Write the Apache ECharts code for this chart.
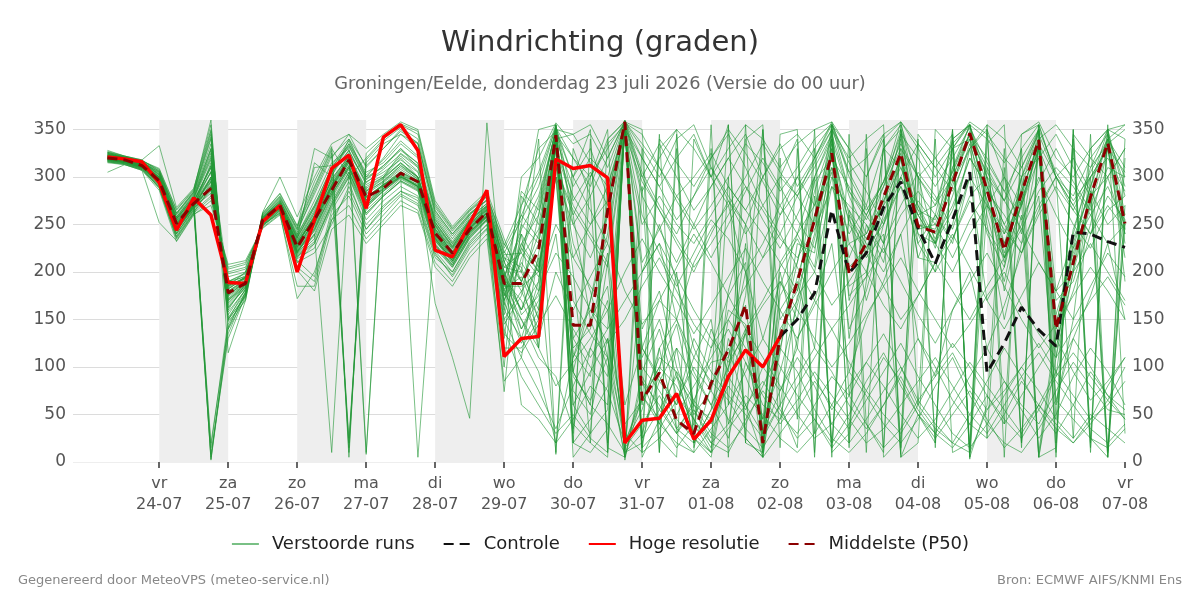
<!DOCTYPE html>
<html>
<head>
<meta charset="utf-8">
<script src="https://cdn.jsdelivr.net/npm/echarts@6/dist/echarts.min.js"></script>
<style>
html, body { margin: 0; padding: 0; background: #fff; }
#main { width: 1200px; height: 600px; }
</style>
</head>
<body>
<div id="main"></div>
<script>
var myChart = echarts.init(document.getElementById('main'));

// tijdstappen: uren na 23-07 00:00, elke 6 uur vanaf 23-07 06:00
var firstHour = 6, stepHours = 6, nSteps = 60;
var hours = [];
for (var i = 0; i < nSteps; i++) hours.push(firstHour + stepHours * i);

// dagticks (uren na 23-07 00:00) en hun labels
var tickHours = [24, 48, 72, 96, 120, 144, 168, 192, 216, 240, 264, 288, 312, 336, 360];
var tickDays = ['vr', 'za', 'zo', 'ma', 'di', 'wo', 'do', 'vr', 'za', 'zo', 'ma', 'di', 'wo', 'do', 'vr'];
var tickDates = ['24-07', '25-07', '26-07', '27-07', '28-07', '29-07', '30-07', '31-07',
                 '01-08', '02-08', '03-08', '04-08', '05-08', '06-08', '07-08'];

// grijze dagbanden (van, tot) in uren
var bandStart = [24, 72, 120, 168, 216, 264, 312];
var bandEnd = [48, 96, 144, 192, 240, 288, 336];

// hoge resolutie (loopt tot 02-08 00:00)
var hres = [321,319,316,294,244,278,260,189,188,253,270,200,
            255,309,323,267,342,355,328,223,216,251,286,111,
            130,132,319,309,312,299,20,44,46,72,24,44,
            90,118,100,132];

// controle (alleen zichtbaar na het einde van de hoge resolutie)
var controle = [null,null,null,null,null,null,null,null,null,null,null,null,
                null,null,null,null,null,null,null,null,null,null,null,null,
                null,null,null,null,null,null,null,null,null,null,null,null,
                null,null,null,132,150,178,265,199,220,268,295,246,
                209,255,305,94,125,163,139,122,242,240,232,226];

// middelste (P50)
var p50 = [320,318,312,296,251,272,288,178,188,255,270,226,
           255,286,318,279,288,304,295,241,220,245,263,188,
           188,223,344,144,144,265,358,65,94,44,30,83,
           118,165,20,132,190,255,325,199,230,279,325,248,
           242,293,346,286,223,283,339,140,210,279,336,251];

// verstoorde runs (50 leden)
var runs = [
[321,318,312,298,250,272,300,178,190,255,270,228,258,292,318,280,290,305,296,240,220,248,262,190,
 150,120,345,60,95,130,15,40,70,35,20,55,90,60,30,75,110,80,40,20,45,75,100,60,35,20,50,85,120,90,55,30,60,95,70,45],
[318,316,310,292,245,268,315,170,185,252,268,215,240,280,310,270,285,300,290,232,215,240,258,160,
 130,95,20,45,80,60,358,25,55,90,60,30,15,40,80,120,95,55,25,10,30,60,95,130,100,65,40,25,50,85,60,35,20,45,80,110],
[325,320,315,305,258,280,330,150,175,258,275,240,270,310,335,300,310,330,310,255,230,255,270,210,
 180,140,350,110,150,100,5,70,40,20,10,35,60,95,130,100,70,45,15,40,75,110,85,50,30,60,90,120,85,55,25,50,90,120,95,60],
[320,317,313,296,240,265,5,140,180,250,262,210,230,270,300,260,280,295,285,225,205,235,255,150,
 110,75,35,80,120,90,358,15,35,65,100,75,45,25,5,30,55,85,60,35,65,95,125,90,60,30,15,40,70,100,75,45,25,50,35,20],
[323,319,316,302,255,278,320,190,195,256,272,235,315,300,340,300,320,345,330,260,235,260,280,230,
 200,160,355,95,60,40,10,30,85,120,90,60,100,140,110,80,50,25,40,70,105,80,50,25,45,75,105,80,55,30,60,95,130,100,70,55],
[316,314,308,288,235,262,290,185,200,248,265,205,190,260,280,240,260,280,270,215,200,230,250,140,
 90,60,30,50,25,10,355,65,100,80,45,20,40,70,50,25,10,30,60,95,70,40,20,45,80,110,70,40,20,10,35,65,45,25,15,35],
[328,322,318,306,262,284,345,160,188,260,278,245,330,320,345,310,330,350,335,265,240,262,275,200,
 160,190,340,130,100,75,20,55,120,150,110,85,65,35,15,45,80,110,140,105,75,50,30,60,95,125,100,70,40,70,100,130,95,65,85,110],
[319,316,311,294,248,270,8,130,175,252,268,220,250,300,25,290,300,320,300,245,225,250,265,175,
 230,200,350,170,135,110,5,85,60,30,55,20,10,45,75,50,30,60,90,70,40,15,35,65,40,20,10,55,85,60,40,75,105,80,55,50],
[322,318,313,300,253,275,305,175,190,255,270,232,262,295,320,285,295,310,298,243,218,250,268,200,
 140,170,240,90,65,110,30,10,25,50,80,110,140,105,70,40,65,95,70,45,20,35,60,85,110,80,50,30,60,90,115,85,60,35,20,40],
[317,315,309,290,238,264,280,200,205,250,264,210,220,250,290,250,270,285,275,220,195,225,245,120,
 120,150,355,20,45,80,358,120,90,60,130,95,70,50,25,60,90,120,95,60,35,60,90,55,30,15,40,70,45,25,55,90,115,90,65,100],
[324,321,316,304,258,282,335,165,183,258,276,238,275,315,330,10,300,325,312,258,232,258,272,215,
 190,120,80,105,130,160,20,70,45,95,65,40,80,55,100,75,120,90,55,80,105,135,100,65,90,115,80,55,75,100,125,95,70,45,60,85],
[320,317,312,297,246,270,298,180,192,254,270,225,255,285,315,275,288,300,292,236,212,242,260,170,
 210,180,345,60,30,55,359,100,75,45,25,10,35,60,85,55,25,45,20,50,85,115,80,50,25,50,75,45,15,35,60,40,20,40,65,45],
[326,321,317,308,265,286,360,115,170,262,282,248,290,330,300,320,340,355,345,270,245,265,280,225,
 260,300,352,300,330,280,358,330,300,340,355,310,280,250,300,335,290,320,350,305,270,330,355,300,320,345,5,310,275,330,355,300,280,320,345,290],
[315,313,307,286,232,260,275,205,210,246,260,185,185,255,270,235,255,275,265,210,190,220,240,100,
 280,250,345,320,290,340,359,305,270,240,280,320,345,310,270,240,280,320,355,315,285,250,300,335,310,285,330,350,300,270,320,345,310,280,300,330],
[321,318,314,299,251,273,310,172,188,256,271,230,260,305,325,295,305,318,305,248,222,252,266,205,
 220,270,350,260,300,335,355,280,245,210,250,290,320,290,255,225,260,300,340,280,240,275,310,270,235,270,320,290,250,220,265,300,320,285,250,270],
[319,316,311,295,247,269,3,135,178,253,269,222,245,290,20,285,298,315,300,240,218,246,262,185,
 250,230,340,290,320,300,357,345,310,275,245,270,300,335,315,285,310,340,356,300,265,295,345,320,290,320,352,315,285,320,350,305,275,300,330,305],
[323,320,315,301,256,279,325,155,182,257,273,236,268,305,335,305,315,335,320,252,228,255,270,195,
 240,205,300,250,215,260,354,300,265,230,200,240,275,250,215,260,300,270,335,250,220,255,290,230,200,235,275,245,215,250,300,260,225,260,290,250],
[318,315,310,293,243,267,285,195,200,251,266,218,235,275,305,265,282,298,288,230,208,238,256,165,
 300,320,357,335,345,310,359,285,320,350,330,300,330,355,340,310,335,350,358,330,300,340,358,335,310,335,355,340,315,345,358,320,300,330,350,340],
[327,322,318,333,268,288,350,140,172,263,300,258,300,335,345,330,345,358,350,275,248,268,285,235,
 190,230,330,270,240,210,350,260,220,185,220,255,235,200,230,270,240,205,330,260,230,200,240,275,250,215,255,285,260,230,270,300,270,240,280,255],
[316,314,308,289,237,263,295,190,198,249,263,212,195,265,295,245,268,285,278,222,200,232,250,130,
 270,305,355,250,280,320,358,300,335,300,265,290,320,345,300,270,300,330,355,285,255,290,330,300,275,305,345,320,285,255,295,330,295,265,310,300],
[322,319,313,299,252,274,312,168,186,255,271,229,258,298,322,288,300,315,300,246,220,248,264,180,
 230,260,340,215,250,290,350,320,290,255,280,310,275,240,270,300,280,250,320,290,260,230,270,305,280,245,300,270,240,275,330,285,250,225,265,280],
[320,316,312,296,249,271,288,182,194,254,269,226,252,288,318,278,292,302,294,238,214,245,261,195,
 245,280,348,300,265,230,356,210,245,280,250,215,250,285,320,290,255,225,300,265,235,270,300,265,230,265,320,290,250,285,335,300,265,300,320,285],
[325,320,316,306,260,283,340,158,181,259,277,242,285,325,10,315,335,345,335,262,238,260,276,210,
 260,235,350,345,355,320,359,10,340,315,290,320,350,325,295,260,285,315,350,320,340,355,15,345,320,295,330,355,340,310,350,5,345,320,300,330],
[317,315,309,291,240,266,300,188,196,250,265,214,225,268,300,255,275,290,280,228,205,236,254,155,
 215,245,330,280,250,275,345,295,265,235,205,230,260,290,265,235,215,245,290,270,250,220,260,285,260,235,280,300,275,245,285,310,290,260,230,250],
[321,318,313,298,250,272,306,176,189,255,270,231,257,293,320,283,296,312,297,242,219,247,263,188,
 285,265,352,320,300,330,358,335,310,280,300,325,290,265,300,330,345,320,358,305,320,345,358,330,300,330,358,345,320,300,340,355,330,310,335,350],
[319,317,311,294,246,270,292,185,193,253,268,223,248,285,312,272,290,303,291,235,212,243,259,170,
 225,200,310,265,235,205,340,250,280,250,230,260,290,265,240,210,240,270,310,255,225,250,290,260,230,200,240,270,245,220,260,290,265,240,270,245],
[324,320,316,303,257,281,330,162,184,258,275,239,310,312,338,302,318,338,322,256,230,256,272,220,
 255,290,354,275,305,270,358,320,290,320,345,300,270,300,335,305,280,310,345,285,260,295,335,300,270,300,340,305,275,310,345,300,270,305,340,310],
[318,316,310,293,244,268,283,198,203,252,267,217,232,272,302,262,280,296,286,228,207,237,255,145,
 175,260,352,95,60,280,359,15,120,35,60,140,95,230,10,185,240,300,345,70,190,330,350,230,260,340,355,300,180,260,5,110,240,310,350,190],
[322,318,314,300,254,276,318,170,187,256,272,233,263,302,328,292,302,322,306,249,224,251,267,190,
 130,190,345,5,30,300,2,95,140,70,45,15,130,90,45,200,120,280,20,265,215,240,8,300,230,350,3,270,300,240,355,60,150,300,12,270],
[320,317,312,297,248,271,296,180,191,254,269,227,253,290,316,276,291,304,293,237,214,244,260,200,
 60,45,20,110,170,260,355,110,150,90,30,10,110,200,15,160,190,120,340,130,250,210,300,260,270,330,340,250,150,230,330,110,200,330,350,280],
[326,321,317,309,266,287,355,148,170,262,283,249,295,332,5,325,342,356,348,272,246,266,282,228,
 270,330,348,40,20,5,360,120,85,60,110,150,40,140,5,140,170,260,330,200,220,280,340,245,250,300,345,300,230,270,335,155,220,275,345,240],
[305,313,307,252,233,261,270,208,212,247,261,202,180,245,260,230,250,270,262,205,185,215,235,85,
 110,220,310,260,150,185,10,20,95,200,55,25,180,250,30,115,230,220,350,175,195,330,310,260,230,310,355,290,215,300,350,90,230,290,340,300],
[323,319,315,302,256,278,322,167,185,257,273,237,270,310,333,298,312,328,315,253,227,254,269,212,
 155,175,340,345,315,290,355,200,250,190,120,80,120,60,5,130,210,295,320,215,260,295,358,270,225,310,345,310,240,300,5,130,215,280,5,250],
[319,316,311,295,245,269,290,186,194,253,268,221,243,282,310,270,287,301,290,234,210,240,258,175,
 225,275,350,95,170,240,359,5,45,15,40,120,175,210,10,175,210,285,340,230,240,290,350,265,255,305,355,270,210,290,350,180,235,285,5,255],
[321,317,313,298,250,273,15,150,182,254,270,226,250,292,320,282,294,308,296,240,216,246,262,185,
 185,200,320,20,10,35,355,140,180,100,50,75,160,145,35,210,180,300,15,260,170,230,330,240,200,330,355,260,190,275,10,140,245,300,330,230],
[324,320,315,303,256,279,2,145,176,257,273,234,265,305,328,294,308,324,310,250,226,253,268,205,
 200,340,8,300,350,15,5,330,10,345,20,355,5,340,355,15,330,10,350,20,345,5,25,340,15,350,10,335,355,20,340,10,350,25,5,340],
[318,315,310,294,246,268,300,182,195,252,267,219,240,10,305,268,286,300,290,236,212,242,258,74,
 250,350,355,20,340,10,358,350,25,5,340,300,355,20,10,345,350,5,355,330,10,340,5,20,350,330,15,355,5,345,355,20,340,10,350,355],
[322,319,314,300,252,275,310,176,190,255,271,231,258,298,322,8,296,312,300,244,220,249,266,190,
 160,215,10,330,280,20,359,25,330,350,40,10,300,20,350,60,15,330,5,345,40,10,350,300,20,345,5,60,330,15,355,300,25,345,10,320],
[320,316,312,296,249,271,295,183,193,254,269,224,250,288,315,276,292,300,5,250,217,247,262,182,
 195,150,335,30,300,350,6,290,10,330,15,80,355,25,5,320,45,350,10,30,330,15,355,60,340,10,20,350,40,330,5,15,350,20,355,30],
[319,316,311,295,246,270,290,186,194,253,268,221,244,284,312,270,288,302,290,167,110,46,357,160,
 240,120,350,200,20,340,358,60,345,30,10,330,60,355,20,300,340,30,355,15,300,345,5,50,20,340,355,25,310,20,350,45,330,15,340,355],
[321,317,312,297,249,271,305,174,188,254,270,229,256,290,317,279,292,306,295,239,217,246,262,195,
 160,210,300,120,140,220,60,120,170,150,210,245,270,200,130,190,150,260,305,140,180,250,320,215,260,230,300,170,205,275,330,130,180,240,300,240],
[323,320,315,300,254,277,328,163,184,257,274,236,268,306,332,297,312,330,314,252,226,254,269,215,
 205,150,335,230,180,110,356,85,40,120,20,55,150,120,30,60,175,200,290,240,270,230,320,215,210,250,330,240,205,300,320,170,190,250,330,215],
[317,314,309,291,241,266,287,190,199,251,266,216,230,272,305,262,280,296,287,229,207,238,256,150,
 180,205,300,75,50,130,40,65,110,95,25,5,100,175,350,150,180,240,355,170,235,270,345,250,240,290,348,275,230,285,335,145,225,290,350,260],
[325,321,316,305,261,284,342,152,178,260,279,244,282,322,340,312,330,348,336,264,240,261,276,222,
 190,240,346,130,160,140,358,90,55,30,65,105,110,165,25,120,195,255,325,205,225,275,320,250,245,295,340,285,220,280,340,140,205,275,340,250],
[320,317,312,297,249,272,298,179,191,254,270,227,254,291,318,279,292,305,294,238,216,246,262,178,
 150,110,90,35,120,170,12,200,230,150,95,60,25,105,60,45,130,170,230,95,150,190,240,130,90,160,200,120,165,220,280,65,130,175,230,150],
[319,315,310,293,243,268,20,142,178,252,267,220,238,278,308,268,285,299,289,233,210,241,259,168,
 125,160,330,115,90,210,20,65,100,145,60,45,85,135,45,95,165,235,310,185,200,260,325,240,230,280,335,275,215,270,330,120,200,270,330,245],
[322,318,313,299,251,274,312,171,187,255,271,230,259,296,322,286,299,314,299,245,221,249,265,192,
 170,130,200,160,195,230,180,145,170,205,240,210,175,140,170,205,235,200,165,190,220,185,150,175,210,240,205,170,140,175,210,180,150,185,220,195],
[318,316,311,295,246,269,288,184,195,253,268,222,246,282,310,272,288,301,290,235,212,242,259,180,
 140,180,220,195,160,125,150,185,215,180,145,120,150,185,215,240,205,170,140,165,195,225,190,155,125,160,190,220,185,150,120,145,175,205,180,150],
[326,322,317,307,262,285,348,150,174,261,280,246,288,328,15,318,338,352,340,268,243,264,279,218,
 220,195,250,215,185,160,200,235,200,170,135,165,195,225,190,160,130,165,200,230,200,165,140,175,210,180,150,185,215,245,210,180,200,230,200,170],
[316,313,308,289,236,262,278,203,208,249,262,172,200,255,285,245,265,282,272,218,197,228,246,135,
 115,145,175,140,110,140,170,200,230,195,160,130,105,135,165,190,160,130,100,125,155,185,215,180,150,120,145,175,200,165,135,110,140,170,195,165]
];

function pairs(vals) {
    var out = [];
    for (var i = 0; i < vals.length; i++) out.push([hours[i], vals[i]]);
    return out;
}

var bands = [];
for (var b = 0; b < bandStart.length; b++) {
    bands.push([{ xAxis: bandStart[b] }, { xAxis: bandEnd[b] }]);
}

var series = [{
    name: 'bands',
    type: 'line',
    data: [],
    silent: true,
    markArea: {
        silent: true,
        itemStyle: { color: '#eeeeee' },
        data: bands
    }
}];

runs.forEach(function (r) {
    series.push({
        name: 'Verstoorde runs',
        type: 'line',
        data: pairs(r),
        symbol: 'none',
        silent: true,
        lineStyle: { color: '#1f9634', width: 1, opacity: 0.6 },
        itemStyle: { color: '#1f9634', opacity: 0.6 }
    });
});

series.push({
    name: 'Controle',
    type: 'line',
    data: pairs(controle),
    symbol: 'none',
    lineStyle: { color: '#111111', width: 3, type: [10, 6] },
    itemStyle: { color: '#111111' }
});
series.push({
    name: 'Hoge resolutie',
    type: 'line',
    data: pairs(hres),
    symbol: 'none',
    lineStyle: { color: '#ff0000', width: 3.5 },
    itemStyle: { color: '#ff0000' }
});
series.push({
    name: 'Middelste (P50)',
    type: 'line',
    data: pairs(p50),
    symbol: 'none',
    lineStyle: { color: '#8b0000', width: 3, type: [10, 6] },
    itemStyle: { color: '#8b0000' }
});

var yAxisBase = {
    type: 'value',
    min: 0,
    max: 360,
    interval: 50,
    axisLine: { show: false },
    axisTick: { show: false },
    axisLabel: { showMaxLabel: false, fontSize: 17, color: '#555', margin: 7 }
};

// rasterlijnen 0..350, geen lijn op 360
var gridColors = ['#eeeeee', '#dcdcdc', '#dcdcdc', '#dcdcdc', '#dcdcdc', '#dcdcdc', '#dcdcdc', '#dcdcdc', 'rgba(0,0,0,0)'];

var option = {
    animation: false,
    backgroundColor: '#ffffff',
    textStyle: { fontFamily: 'DejaVu Sans' },
    title: {
        text: 'Windrichting (graden)',
        subtext: 'Groningen/Eelde, donderdag 23 juli 2026 (Versie do 00 uur)',
        left: 'center',
        top: 24,
        itemGap: 17,
        textStyle: { fontSize: 29, fontWeight: 'normal', color: '#333' },
        subtextStyle: { fontSize: 17.8, color: '#666' }
    },
    grid: { left: 73, right: 75, top: 120, bottom: 138 },
    legend: {
        top: 530,
        left: 'center',
        itemWidth: 27,
        itemHeight: 14,
        itemGap: 28,
        itemStyle: { opacity: 0 },
        textStyle: { fontSize: 18, color: '#222', padding: [0, 0, 0, 8] },
        data: ['Verstoorde runs', 'Controle', 'Hoge resolutie', 'Middelste (P50)']
    },
    xAxis: {
        type: 'value',
        min: -6,
        max: 360,
        axisLine: { show: false },
        splitLine: { show: false },
        axisTick: {
            customValues: tickHours,
            length: 6,
            lineStyle: { color: '#666', width: 2 }
        },
        axisLabel: {
            customValues: tickHours,
            fontSize: 16,
            color: '#555',
            lineHeight: 21,
            margin: 11,
            formatter: function (v) {
                var k = tickHours.indexOf(v);
                return k < 0 ? '' : tickDays[k] + '\n' + tickDates[k];
            }
        }
    },
    yAxis: [
        echarts.util.merge({ position: 'left', splitLine: { lineStyle: { color: gridColors } } }, yAxisBase),
        echarts.util.merge({ position: 'right', splitLine: { show: false } }, yAxisBase)
    ],
    graphic: [
        { type: 'text', left: 18, top: 574,
          style: { text: 'Gegenereerd door MeteoVPS (meteo-service.nl)', fontSize: 13, fill: '#888', fontFamily: 'DejaVu Sans' } },
        { type: 'text', right: 18, top: 574,
          style: { text: 'Bron: ECMWF AIFS/KNMI Ens', fontSize: 13, fill: '#888', fontFamily: 'DejaVu Sans' } }
    ],
    series: series
};
myChart.setOption(option);
</script>
</body>
</html>
